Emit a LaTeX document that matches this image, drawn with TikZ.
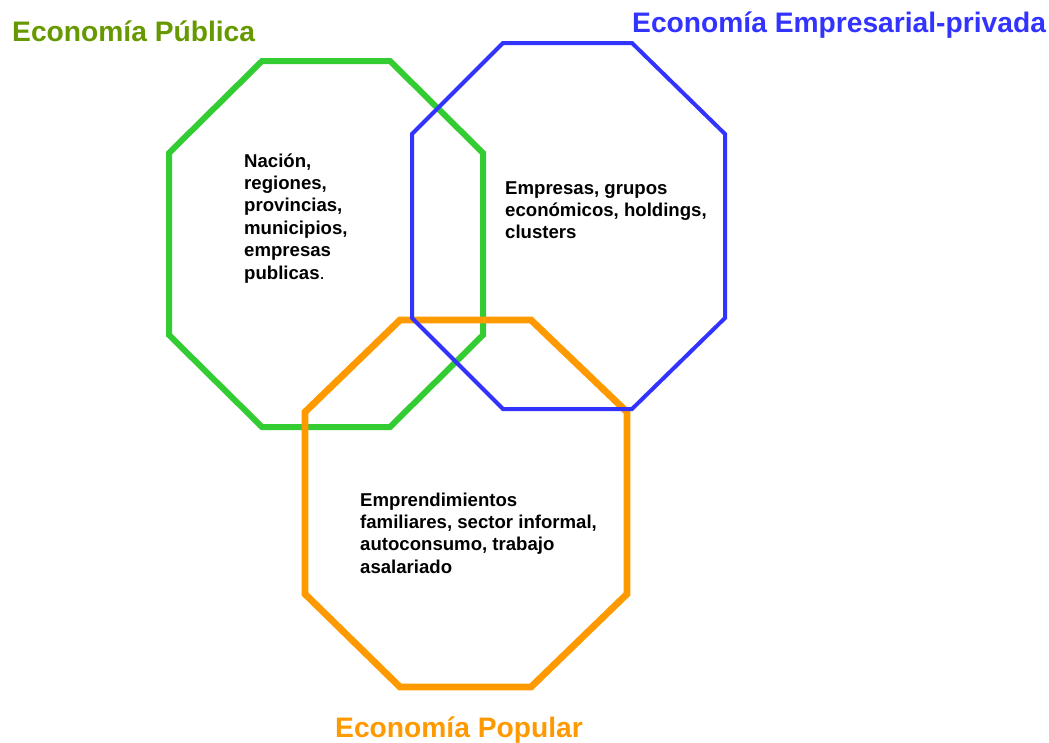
\documentclass[tikz,border=0pt]{standalone}
\usepackage{fontspec}
\setmainfont{Liberation Sans}
\definecolor{pubgreen}{HTML}{33CC33}
\definecolor{pubtitle}{HTML}{669900}
\definecolor{empblue}{HTML}{3333FF}
\definecolor{poporange}{HTML}{FF9900}
\tikzset{
  octo/.style={line join=miter, fill=none},
  titletext/.style={font=\bfseries\fontsize{28.2}{33}\selectfont, inner sep=0pt, anchor=base west},
  bodytext/.style={font=\bfseries\fontsize{18.6}{22.4}\selectfont, inner sep=0pt, anchor=base west, align=left}
}
\begin{document}
\begin{tikzpicture}[x=1pt,y=-1pt]
\useasboundingbox (0,0) rectangle (1049,742);
% green octagon
\draw[octo, pubgreen, line width=6pt] (262,61) -- (390,61) -- (483,153) -- (483,335) -- (390,427) -- (262,427) -- (169,335) -- (169,153) -- cycle;
% orange octagon
\draw[octo, poporange, line width=6.8pt] (400,320) -- (531,320) -- (627,412) -- (627,594) -- (531,687) -- (400,687) -- (305,594) -- (305,412) -- cycle;
% blue octagon
\draw[octo, empblue, line width=4pt] (503,43) -- (632,43) -- (725,134) -- (725,318) -- (632,409) -- (503,409) -- (412,318) -- (412,134) -- cycle;
% titles
\node[titletext, text=pubtitle] (tpub) at (12,41) {Economía Pública};
\node[titletext, text=empblue] (temp) at (632,32) {Economía Empresarial-privada};
\node[titletext, text=poporange] (tpop) at (335,737) {Economía Popular};
% body texts
\node[bodytext] (bpub) at (244,167) {\begin{tabular}[t]{@{}l@{}}Nación,\\regiones,\\provincias,\\municipios,\\empresas\\publicas{\mdseries .}\end{tabular}};
\node[bodytext] (bemp) at (505,194) {\begin{tabular}[t]{@{}l@{}}Empresas, grupos\\económicos, holdings,\\clusters\end{tabular}};
\node[bodytext] (bpop) at (360,506) {\begin{tabular}[t]{@{}l@{}}Emprendimientos\\familiares, sector informal,\\autoconsumo, trabajo\\asalariado\end{tabular}};
\end{tikzpicture}
\end{document}
